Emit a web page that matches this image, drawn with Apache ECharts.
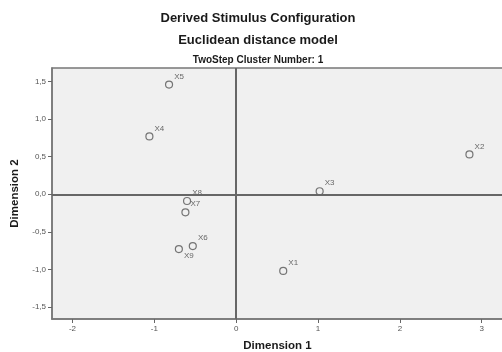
<!DOCTYPE html>
<html>
<head>
<meta charset="utf-8">
<script src="https://cdn.jsdelivr.net/npm/echarts@6/dist/echarts.min.js"></script>
<style>
  html, body { margin: 0; padding: 0; background: #fff; }
  #chart { width: 502px; height: 352px; }
</style>
</head>
<body>
<div id="chart"></div>
<script>
  // stimulus labels and coordinates
  var names = ['X1', 'X2', 'X3', 'X4', 'X5', 'X6', 'X7', 'X8', 'X9'];
  var dim1 = [0.575, 2.85, 1.02, -1.06, -0.82, -0.53, -0.62, -0.60, -0.70];
  var dim2 = [-1.02, 0.53, 0.04, 0.77, 1.46, -0.69, -0.24, -0.09, -0.73];
  var xTicks = [-2, -1, 0, 1, 2, 3];
  var yTicks = [-1.5, -1, -0.5, 0, 0.5, 1, 1.5];

  var myChart = echarts.init(document.getElementById('chart'));

  var points = [];
  for (var i = 0; i < names.length; ++i) {
    var p = { name: names[i], value: [dim1[i], dim2[i]] };
    if (names[i] === 'X9') {
      p.label = { offset: [0, 7] };
    }
    points.push(p);
  }

  function comma(v) {
    return v.toFixed(1).replace('.', ',');
  }

  var font = 'Liberation Sans, Arial, sans-serif';

  var option = {
    backgroundColor: '#fff',
    animation: false,
    title: [
      {
        text: 'Derived Stimulus Configuration',
        left: 253, top: 7, textAlign: 'center',
        textStyle: { fontSize: 13, fontWeight: 'bold', color: '#1a1a1a', fontFamily: font }
      },
      {
        text: 'Euclidean distance model',
        left: 253, top: 29, textAlign: 'center',
        textStyle: { fontSize: 13, fontWeight: 'bold', color: '#1a1a1a', fontFamily: font }
      },
      {
        text: 'TwoStep Cluster Number: 1',
        left: 253, top: 50, textAlign: 'center',
        textStyle: { fontSize: 10, fontWeight: 'bold', color: '#1a1a1a', fontFamily: font }
      }
    ],
    grid: {
      left: 52, top: 68, right: -1, bottom: 33,
      outerBoundsMode: 'none',
      containLabel: false,
      show: true,
      backgroundColor: '#f0f0f0',
      borderColor: '#777',
      borderWidth: 1.5
    },
    xAxis: {
      type: 'value',
      min: -2.25, max: 3.26,
      name: 'Dimension 1',
      nameLocation: 'middle',
      nameGap: 21,
      nameTextStyle: { fontSize: 11.5, fontWeight: 'bold', color: '#1a1a1a', fontFamily: font },
      axisLine: { show: true, onZero: false, lineStyle: { color: '#777', width: 1.5 } },
      splitLine: { show: false },
      axisTick: { show: true, customValues: xTicks, length: 4, lineStyle: { color: '#666' } },
      axisLabel: {
        customValues: xTicks, fontSize: 8, color: '#555', margin: 6, fontFamily: font,
        formatter: function (v) { return String(v); }
      }
    },
    yAxis: {
      type: 'value',
      min: -1.66, max: 1.68,
      name: 'Dimension 2',
      nameLocation: 'middle',
      nameGap: 29,
      nameRotate: 90,
      nameTextStyle: { fontSize: 11.5, fontWeight: 'bold', color: '#1a1a1a', fontFamily: font },
      axisLine: { show: true, onZero: false, lineStyle: { color: '#777', width: 1.5 } },
      splitLine: { show: false },
      axisTick: { show: true, customValues: yTicks, length: 4, lineStyle: { color: '#666' } },
      axisLabel: {
        customValues: yTicks, fontSize: 8, color: '#555', margin: 6, fontFamily: font,
        formatter: function (v) { return comma(v); }
      }
    },
    series: [
      {
        type: 'scatter',
        data: points,
        symbol: 'circle',
        symbolSize: 7,
        itemStyle: { color: 'rgba(0,0,0,0)', borderColor: '#555', borderWidth: 1.2 },
        label: {
          show: true,
          position: 'right',
          distance: 1,
          offset: [0, -8],
          formatter: '{b}',
          fontSize: 8,
          color: '#444',
          fontFamily: font
        },
        markLine: {
          silent: true,
          symbol: 'none',
          label: { show: false },
          lineStyle: { color: '#666', width: 2, type: 'solid' },
          data: [{ xAxis: 0 }, { yAxis: 0 }]
        }
      }
    ]
  };

  myChart.setOption(option);
</script>
</body>
</html>
